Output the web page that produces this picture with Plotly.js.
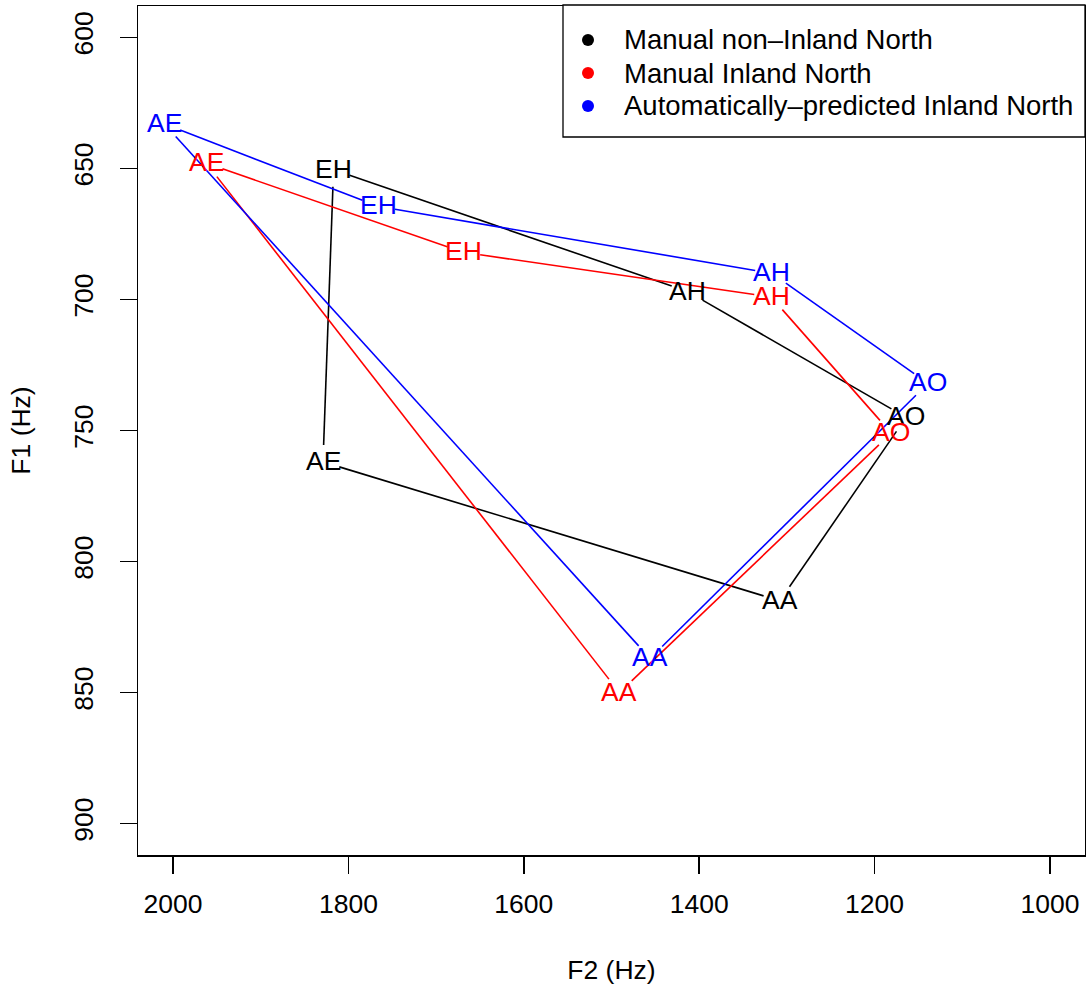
<!DOCTYPE html>
<html>
<head>
<meta charset="utf-8">
<script src="https://cdn.plot.ly/plotly-3.0.1.min.js"></script>
<style>html,body{margin:0;padding:0;background:#fff;}#chart{width:1086px;height:992px;}</style>
</head>
<body>
<div id="chart"></div>
<script>
// Vowel categories (polygon order, closed back to the first)
const vowels = ["AE", "AA", "AO", "AH", "EH"];

// Manual non-Inland North
const nonInlandF2 = [1829, 1308, 1164, 1413, 1817];
const nonInlandF1 = [762, 815, 745, 697, 650.5];

// Manual Inland North
const inlandF2 = [1962, 1491, 1181, 1318, 1669];
const inlandF1 = [648, 850, 751, 699, 682];

// Automatically-predicted Inland North
const autoF2 = [2010, 1456, 1139, 1317, 1766];
const autoF1 = [633, 837, 732, 690, 664.5];

const seriesNames = ["Manual non\u2013Inland North", "Manual Inland North", "Automatically\u2013predicted Inland North"];
const seriesColors = ["#000000", "#FF0000", "#0000FF"];

const xTicks = [2000, 1800, 1600, 1400, 1200, 1000];
const yTicks = [600, 650, 700, 750, 800, 850, 900];

// Layout geometry
const W = 1086, H = 992;
const margin = {l: 138, r: 1, t: 6, b: 137};
const xRange = [2040, 960];
const yRange = [912, 588];
const plotW = W - margin.l - margin.r;
const plotH = H - margin.t - margin.b;
const sx = plotW / Math.abs(xRange[1] - xRange[0]);
const sy = plotH / Math.abs(yRange[1] - yRange[0]);
const GAP = 17; // px gap around each label, like R type="b"

// Build closed polygon edges with gaps at the vertices (fractions along each edge)
function gappedEdges(xs, ys) {
  const ox = [], oy = [];
  const n = xs.length;
  for (let i = 0; i < n; i++) {
    const j = (i + 1) % n;
    const dx = xs[j] - xs[i], dy = ys[j] - ys[i];
    const d = Math.hypot(dx * sx, dy * sy);
    if (d <= 2 * GAP) continue;
    const t = GAP / d;
    ox.push(xs[i] + dx * t, xs[j] - dx * t, null);
    oy.push(ys[i] + dy * t, ys[j] - dy * t, null);
  }
  return {x: ox, y: oy};
}

const FONT = "Liberation Sans, Arial, Helvetica, sans-serif";
const FS = 26.5;
const LFS = 27.5;

const data = [];
const allF2 = [nonInlandF2, inlandF2, autoF2];
const allF1 = [nonInlandF1, inlandF1, autoF1];

for (let s = 0; s < 3; s++) {
  const e = gappedEdges(allF2[s], allF1[s]);
  data.push({
    type: "scatter", mode: "lines", x: e.x, y: e.y, name: seriesNames[s],
    line: {color: seriesColors[s], width: 1.6},
    showlegend: false, hoverinfo: "skip"
  });
}

// Vowel labels as annotations anchored at each data point
const annotations = [];
for (let s = 0; s < 3; s++) {
  for (let i = 0; i < vowels.length; i++) {
    annotations.push({
      x: allF2[s][i], y: allF1[s][i], xref: "x", yref: "y",
      text: vowels[i], showarrow: false,
      xanchor: "center", yanchor: "middle", yshift: 1,
      font: {family: FONT, size: FS, color: seriesColors[s]}
    });
  }
}

// Legend box (R-style), drawn in paper coordinates
const legLeftPx = 563, legTopPx = 5, legBottomPx = 137;
const toPX = px => (px - margin.l) / plotW;
const toPY = py => (H - margin.b - py) / plotH;
const rowY = [40, 73, 106];
const shapes = [{
  type: "rect", xref: "paper", yref: "paper",
  x0: toPX(legLeftPx), x1: 1, y0: toPY(legBottomPx), y1: toPY(legTopPx),
  line: {color: "#000", width: 1.3}, fillcolor: "#fff", layer: "above"
}];
for (let s = 0; s < 3; s++) {
  shapes.push({
    type: "circle", xref: "paper", yref: "paper",
    xsizemode: "pixel", ysizemode: "pixel",
    xanchor: toPX(588), yanchor: toPY(rowY[s]),
    x0: -6, x1: 6, y0: -6, y1: 6,
    fillcolor: seriesColors[s], line: {width: 0}, layer: "above"
  });
  annotations.push({
    xref: "paper", yref: "paper", x: toPX(622), y: toPY(rowY[s]),
    xanchor: "left", yanchor: "middle", showarrow: false, yshift: 0,
    text: seriesNames[s],
    font: {family: FONT, size: LFS, color: "#000"}
  });
}

const layout = {
  width: W, height: H,
  margin: margin,
  paper_bgcolor: "#fff", plot_bgcolor: "#fff",
  font: {family: FONT, size: FS, color: "#000"},
  showlegend: false,
  shapes: shapes,
  annotations: annotations,
  xaxis: {
    range: xRange, tickvals: xTicks, ticktext: xTicks.map(String),
    showgrid: false, zeroline: false,
    showline: true, mirror: true, linecolor: "#000", linewidth: 1.5,
    ticks: "outside", ticklen: 17, tickwidth: 1.5, tickcolor: "#000",
    tickfont: {family: FONT, size: FS, color: "#000"},
    ticklabelstandoff: 8,
    title: {text: "F2 (Hz)", font: {family: FONT, size: FS, color: "#000"}, standoff: 42}
  },
  yaxis: {
    range: yRange, tickvals: yTicks, ticktext: yTicks.map(String),
    showgrid: false, zeroline: false,
    showline: true, mirror: true, linecolor: "#000", linewidth: 1.5,
    ticks: "outside", ticklen: 17, tickwidth: 1.5, tickcolor: "#000",
    tickangle: -90,
    tickfont: {family: FONT, size: FS, color: "#000"},
    ticklabelstandoff: 16,
    title: {text: "F1 (Hz)", font: {family: FONT, size: FS, color: "#000"}, standoff: 30}
  }
};

Plotly.newPlot("chart", data, layout, {displayModeBar: false, staticPlot: true});
</script>
</body>
</html>
